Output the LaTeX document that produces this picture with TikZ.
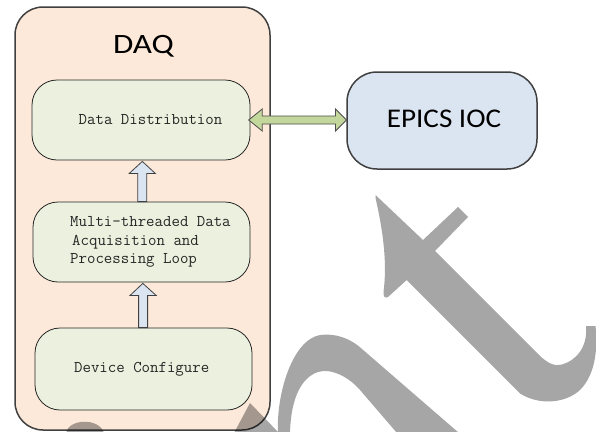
\documentclass[tikz,border=0pt]{standalone}
\usepackage{fontspec}
\newfontfamily\titlefont{Carlito}
\usetikzlibrary{calc}
\definecolor{peach}{HTML}{FDE9D9}
\definecolor{palegreen}{HTML}{EBF1DE}
\definecolor{paleblue}{HTML}{DBE5F1}
\definecolor{linkgreen}{HTML}{C3D69B}
\definecolor{framegray}{HTML}{404040}
\begin{document}
\begin{tikzpicture}[x=1pt,y=-1pt,
  outerbox/.style={draw=framegray, line width=1.5pt, rounded corners=28pt, inner sep=0pt},
  stagebox/.style={draw=black!85, line width=0.8pt, fill=palegreen, rounded corners=25pt, inner sep=0pt, minimum width=217pt},
  stagetext/.style={font=\ttfamily\fontsize{16.4}{18.5}\selectfont, text=black!85, inner sep=0pt},
  titletext/.style={font=\titlefont, text=black, inner sep=0pt},
  uparrow/.style={draw=black!75, line width=0.8pt, fill=paleblue, line join=miter},
  linkarrow/.style={draw=black!70, line width=0.8pt, fill=linkgreen, line join=miter},
  stamp/.style={fill=black, fill opacity=0.35}]
\useasboundingbox (0,0) rectangle (596,431);

% DAQ container
\node[outerbox, fill=peach, minimum width=255pt, minimum height=423pt] (daq) at (142.5,218.5) {};
\node[titletext, font=\titlefont\fontsize{28}{30}\selectfont] (daqt) at (143.5,46.5) {\scalebox{1.18}[1]{DAQ}};

% processing stages
\node[stagebox, minimum width=218pt, minimum height=80pt] (dd) at (141,120) {};
\node[stagetext] (ddt) at (150.5,120) {Data Distribution};

\node[stagebox, minimum height=80pt] (md) at (141.5,242) {};
\node[stagetext, anchor=west, align=left] (mdt) at (70,242)
  {Multi-threaded Data\\\hspace*{2pt}Acquisition and\\Processing Loop};

\node[stagebox, minimum height=82pt] (dc) at (143.5,369) {};
\node[stagetext] (dct) at (141.7,369) {Device Configure};

% IOC
\node[outerbox, fill=paleblue, rounded corners=30pt, minimum width=190pt, minimum height=97pt] (ioc) at (442,120.5) {};
\node[titletext, font=\titlefont\fontsize{27}{29}\selectfont] (ioct) at (444,118.5) {\scalebox{1.08}[1]{EPICS IOC}};

% block arrows between stages
\coordinate (a1t) at ($(dd.south)+(1.3,1)$);
\coordinate (a1b) at (md.north);
\draw[uparrow] (a1t) -- ++(13,12) -- ++(-8.5,0) -- ($(a1t|-a1b)+(4.5,0)$)
  -- ++(-9,0) -- ($(a1t)+(-4.5,12)$) -- ++(-8.5,0) -- cycle;

\coordinate (a2t) at ($(md.south)+(1.3,1)$);
\coordinate (a2b) at (dc.north);
\draw[uparrow] (a2t) -- ++(13.3,12) -- ++(-8.5,0) -- ($(a2t|-a2b)+(4.8,0)$)
  -- ++(-9,0) -- ($(a2t)+(-4.2,12)$) -- ++(-8.5,0) -- cycle;

% two-way link to the IOC
\coordinate (lk1) at ($(dd.east)+(-1.7,0)$);
\coordinate (lk2) at ($(ioc.west)+(0.3,-0.5)$);
\draw[linkarrow] (lk1) -- ++(13.5,-11) -- ++(0,7) -- ($(lk2)+(-11,-4)$) -- ++(0,-7)
  -- (lk2) -- ++(-11,11) -- ++(0,-7) -- ($(lk1)+(13.5,4)$) -- ++(0,7) -- cycle;

% stamp strokes laid over the page
\fill[stamp] (375.5,195) -- (423,240) -- (458,207) -- (468,217) -- (435,251) -- (538,354)
  .. controls (548,364) and (555,366.5) .. (562,364.5)
  .. controls (575,361) and (588,348) .. (586,326)
  -- (595.5,326)
  .. controls (598,350) and (595,375) .. (580,390)
  .. controls (566,403) and (540,406) .. (520,393.5)
  -- (406.7,280) -- (388,297)
  .. controls (385,299) and (383,296) .. (383.5,292)
  .. controls (387,265) and (384,235) .. (375.5,198) -- cycle;
\fill[stamp] (278,433) .. controls (276,395) and (292,340) .. (320,335)
  .. controls (335,333) and (350,338) .. (362,349) -- (459,433) -- (397,433)
  -- (360,390) .. controls (348,376) and (330,368) .. (318,372)
  .. controls (303,377) and (291,395) .. (290,433) -- cycle;
\fill[stamp] (250,403) -- (279,433) -- (234,433) -- cycle;
\fill[stamp] (66,433) .. controls (68,419) and (99,417) .. (104,433) -- cycle;
\end{tikzpicture}
\end{document}
